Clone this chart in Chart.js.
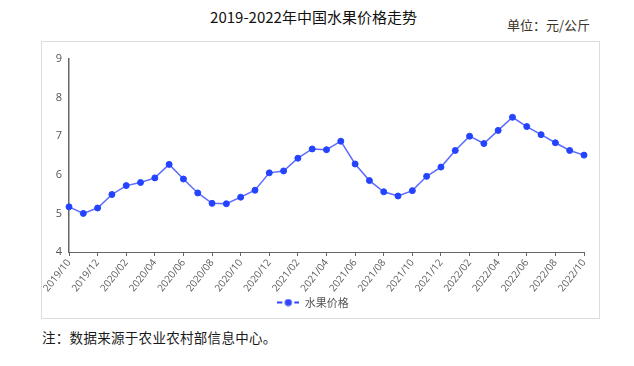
<!DOCTYPE html>
<html>
<head>
<meta charset="utf-8">
<script src="https://cdn.jsdelivr.net/npm/chart.js@4/dist/chart.umd.min.js"></script>
<style>
    body { margin: 0; width: 634px; height: 366px; background: #fff; position: relative; font-family: "Noto Sans CJK SC", "Noto Sans", sans-serif; }
    #title { position: absolute; left: 0; top: 7px; width: 627px; text-align: center; font-size: 15px; color: #111; line-height: 20px; }
    #unit { position: absolute; left: 507px; top: 16px; font-size: 13px; color: #3a3326; line-height: 18px; }
    #box { position: absolute; left: 41px; top: 41px; width: 557px; height: 276px; border: 1px solid #ddd; }
    #box canvas { position: absolute; left: 0; top: 0; }
    #note { position: absolute; left: 42px; top: 328px; font-size: 13.5px; color: #1a1a1a; line-height: 18px; letter-spacing: 0.3px; }
</style>
</head>
<body>
<div id="title">2019-2022年中国水果价格走势</div>
<div id="unit">单位：元/公斤</div>
<div id="box"><canvas id="priceChart" width="557" height="276"></canvas></div>
<div id="note">注：数据来源于农业农村部信息中心。</div>

<script>
/* =========================
   DATA
========================== */
const months = [
    "2019/10", "2019/11", "2019/12",
    "2020/01", "2020/02", "2020/03", "2020/04", "2020/05", "2020/06",
    "2020/07", "2020/08", "2020/09", "2020/10", "2020/11", "2020/12",
    "2021/01", "2021/02", "2021/03", "2021/04", "2021/05", "2021/06",
    "2021/07", "2021/08", "2021/09", "2021/10", "2021/11", "2021/12",
    "2022/01", "2022/02", "2022/03", "2022/04", "2022/05", "2022/06",
    "2022/07", "2022/08", "2022/09", "2022/10"
];

const fruitPrice = [
    5.17, 5.00, 5.14,
    5.49, 5.72, 5.80, 5.92, 6.27, 5.89,
    5.53, 5.26, 5.25, 5.42, 5.60, 6.05,
    6.10, 6.43, 6.67, 6.65, 6.87, 6.28,
    5.85, 5.56, 5.45, 5.59, 5.96, 6.20,
    6.63, 7.00, 6.81, 7.15, 7.49, 7.25,
    7.04, 6.83, 6.63, 6.51
];

const seriesName = "水果价格";
const yMin = 4;
const yMax = 9;

/* =========================
   LEGEND MARKER (-●-)
========================== */
const marker = document.createElement("canvas");
marker.width = 22;
marker.height = 8;
const mctx = marker.getContext("2d");
mctx.fillStyle = "#2f45ff";
mctx.fillRect(0, 3, 5, 2);
mctx.fillRect(17, 3, 5, 2);
mctx.beginPath();
mctx.arc(11, 4, 3.6, 0, Math.PI * 2);
mctx.fill();

/* =========================
   CHART
========================== */
const ctx = document.getElementById("priceChart").getContext("2d");
const axisFont = { family: "'Open Sans', 'Noto Sans', sans-serif", size: 10 };

new Chart(ctx, {
    type: "line",
    data: {
        labels: months,
        datasets: [{
            label: seriesName,
            data: fruitPrice,
            borderColor: "#5b6cff",
            borderWidth: 1.5,
            pointRadius: 3,
            pointBorderWidth: 1,
            pointBackgroundColor: "#2443ff",
            pointBorderColor: "#2443ff",
            tension: 0,
            fill: false
        }]
    },
    options: {
        responsive: false,
        animation: false,
        layout: { padding: { left: 0, right: 15, top: 17, bottom: 0 } },
        plugins: {
            tooltip: { enabled: false },
            legend: {
                display: true,
                position: "bottom",
                labels: {
                    usePointStyle: true,
                    pointStyle: marker,
                    pointStyleWidth: 22,
                    boxHeight: 8,
                    padding: 4,
                    color: "#555",
                    font: { family: "'Noto Sans CJK SC', sans-serif", size: 11 }
                }
            }
        },
        scales: {
            x: {
                afterFit: scale => { scale.height = 41; },
                border: { display: true, color: "#666", width: 1 },
                grid: {
                    drawOnChartArea: false,
                    drawTicks: true,
                    tickLength: 4,
                    tickColor: c => (c.index % 2 ? "rgba(0,0,0,0)" : "#666")
                },
                ticks: {
                    autoSkip: false,
                    maxRotation: 52,
                    minRotation: 52,
                    padding: 1,
                    color: "#5a5a5a",
                    font: axisFont,
                    callback: function (value, index) {
                        return index % 2 ? "" : this.getLabelForValue(value);
                    }
                }
            },
            y: {
                min: yMin,
                max: yMax,
                afterFit: scale => { scale.width = 27; },
                border: { display: true, color: "#666", width: 1.5 },
                grid: { drawOnChartArea: false, drawTicks: false },
                ticks: {
                    stepSize: 1,
                    padding: 7,
                    color: "#555",
                    font: { family: "'Open Sans', 'Noto Sans', sans-serif", size: 11 }
                }
            }
        }
    }
});
</script>
</body>
</html>
